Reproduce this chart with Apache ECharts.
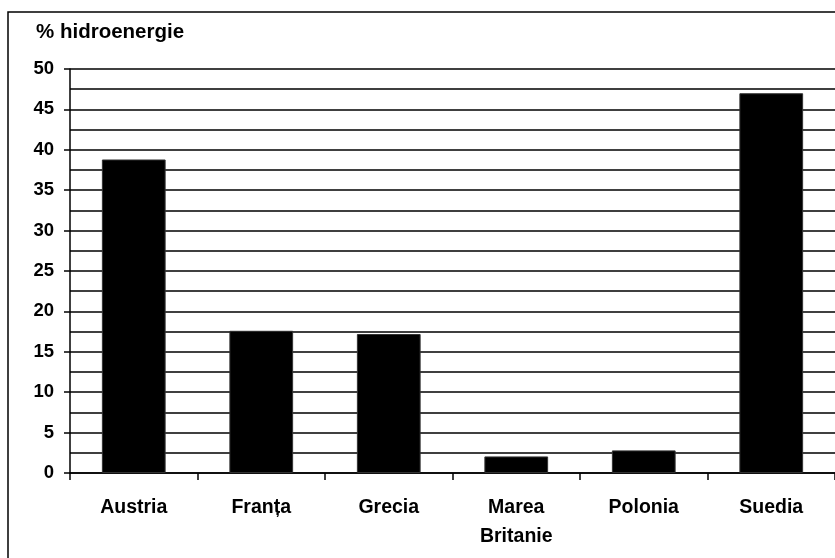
<!DOCTYPE html>
<html>
<head>
<meta charset="utf-8">
<script src="https://cdn.jsdelivr.net/npm/echarts@6/dist/echarts.min.js"></script>
<style>
html,body{margin:0;padding:0;background:#fff;}
#chart{width:835px;height:558px;}
</style>
</head>
<body>
<div id="chart"></div>
<script>
var categories = ['Austria', 'Franța', 'Grecia', 'Marea\nBritanie', 'Polonia', 'Suedia'];
var values = [38.8, 17.6, 17.2, 2.05, 2.8, 47.0];
var yTitle = '% hidroenergie';

var chart = echarts.init(document.getElementById('chart'));
var font = '"Liberation Sans", Arial, sans-serif';
chart.setOption({
  animation: false,
  backgroundColor: '#fff',
  textStyle: { fontFamily: font },
  title: {
    text: yTitle,
    left: 36, top: 22, padding: 0,
    textStyle: { fontFamily: font, fontSize: 20.5, fontWeight: 'bold', color: '#000' }
  },
  graphic: [{
    type: 'rect',
    shape: { x: 8, y: 12, width: 900, height: 600 },
    style: { fill: 'none', stroke: '#000', lineWidth: 1.5 },
    silent: true
  }],
  grid: { left: 70, right: 0, top: 69, bottom: 85, containLabel: false },
  xAxis: {
    type: 'category',
    data: categories,
    boundaryGap: true,
    axisLine: { show: true, lineStyle: { color: '#000', width: 1.5 } },
    axisTick: { show: true, length: 7, lineStyle: { color: '#000', width: 1.5 } },
    axisLabel: {
      color: '#000', fontFamily: font, fontSize: 19.5, fontWeight: 'bold',
      margin: 20, lineHeight: 29, interval: 0
    },
    splitLine: { show: false }
  },
  yAxis: {
    type: 'value',
    min: 0, max: 50, interval: 5,
    axisLine: { show: true, lineStyle: { color: '#000', width: 1.5 } },
    axisTick: { show: true, length: 6, lineStyle: { color: '#000', width: 1.5 } },
    axisLabel: { color: '#000', fontFamily: font, fontSize: 18.5, fontWeight: 'bold', margin: 16 },
    splitLine: { show: true, lineStyle: { color: '#000', width: 1.5 } },
    minorTick: { show: false, splitNumber: 2 },
    minorSplitLine: { show: true, lineStyle: { color: '#000', width: 1.5 } }
  },
  series: [{
    type: 'bar',
    data: values,
    barCategoryGap: '50%',
    itemStyle: { color: '#000', borderColor: '#333', borderWidth: 1 }
  }]
});
</script>
</body>
</html>
